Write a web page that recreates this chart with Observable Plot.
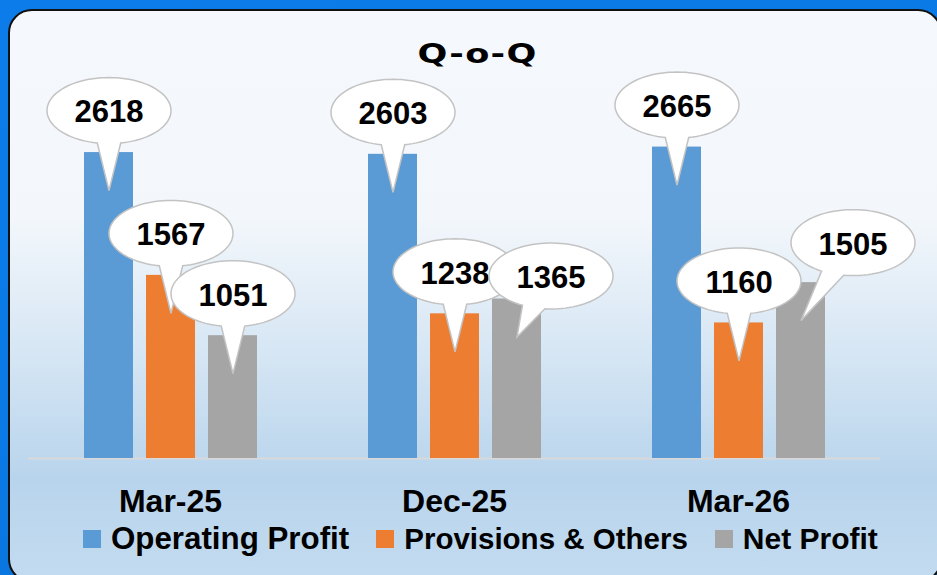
<!DOCTYPE html>
<html>
<head>
<meta charset="utf-8">
<script src="https://cdn.jsdelivr.net/npm/d3@7"></script>
<script src="https://cdn.jsdelivr.net/npm/@observablehq/plot@0.6"></script>
<style>
html, body { margin: 0; padding: 0; }
body { width: 937px; height: 575px; overflow: hidden;
  background: linear-gradient(160deg, #0b7ce9 0%, #0a79e4 55%, #0663c6 100%); }
#wrap { position: relative; width: 937px; height: 575px; overflow: hidden; }
#panel { position: absolute; left: 8px; top: 9px; width: 930px; height: 570px;
  border: 2px solid #111; border-radius: 24px;
  background: linear-gradient(to bottom, #f5f8fc 0%, #f3f7fb 36%, #d6e6f4 60%, #b8d4ec 82%, #c3dbf0 100%); }
#title { position: absolute; left: 9px; width: 937px; top: 39px; line-height: 30px;
  text-align: center; color: #000; }
#title span { display: inline-block; font: bold 26px "DejaVu Sans", sans-serif; letter-spacing: 1px;
  transform: scaleX(1.35); transform-origin: center; }
#chart { position: absolute; left: 0; top: 0; }
#legend { position: absolute; left: 83px; top: 521px; }
#legend .lg-swatches { font: bold 30px "Liberation Sans", Arial, sans-serif !important; color: #000; margin: 0 !important; min-height: 0 !important; }
#legend .lg-swatch > svg { margin-right: 10px !important; }
#legend .lg-swatch:nth-child(2) { font-size: 31.3px; margin-right: 27px !important; }
#legend .lg-swatch:nth-child(3) { font-size: 29.5px; margin-right: 27px !important; }
#legend .lg-swatch:nth-child(4) { font-size: 30px; margin-right: 0 !important; }
</style>
</head>
<body>
<div id="wrap">
  <div id="panel"></div>
  <div id="title"><span>Q-o-Q</span></div>
  <div id="chart"></div>
  <div id="legend"></div>
</div>
<script>
// ---- data ----
const periods = ["Mar-25", "Dec-25", "Mar-26"];
const series = ["Operating Profit", "Provisions & Others", "Net Profit"];
const operatingProfit = [2618, 2603, 2665];
const provisionsOthers = [1567, 1238, 1160];
const netProfit = [1051, 1365, 1505];
const seriesColors = ["#5b9bd5", "#ed7d31", "#a5a5a5"];

// ---- label layout (callout placement relative to bar top, in px) ----
const defaultOffset = [0, -42];
const calloutOffset = { "Dec-25|Net Profit": [34, -23], "Mar-26|Net Profit": [52, -40] };
const tipDrop = 38;

const valuesBySeries = [operatingProfit, provisionsOthers, netProfit];
const rows = periods.flatMap((p, i) =>
  series.map((s, j) => ({ period: p, series: s, value: valuesBySeries[j][i] })));

function bubble(tx, ty, rx = 62, ry = 33) {
  return {
    draw(ctx) {
      const t0 = Math.atan2(ty / ry, tx / rx);
      const d = 0.19, n = 90;
      const a0 = t0 + d, a1 = t0 - d + 2 * Math.PI;
      ctx.moveTo(rx * Math.cos(a0), ry * Math.sin(a0));
      for (let k = 1; k <= n; k++) {
        const a = a0 + (a1 - a0) * k / n;
        ctx.lineTo(rx * Math.cos(a), ry * Math.sin(a));
      }
      ctx.lineTo(tx, ty);
      ctx.closePath();
    }
  };
}

const callouts = rows.flatMap(d => {
  const [ox, oy] = calloutOffset[d.period + "|" + d.series] ?? defaultOffset;
  return [
    Plot.dot([d], { fx: "period", x: "series", y: "value", dx: ox, dy: oy,
      symbol: bubble(-ox, tipDrop - oy), r: 10, fill: "white", stroke: "#c3c3c3", strokeWidth: 1.5 }),
    Plot.text([d], { fx: "period", x: "series", y: "value", dx: ox, dy: oy + 2,
      text: v => String(v.value), fontSize: 31, fontWeight: "bold", fill: "#000" })
  ];
});

const chart = Plot.plot({
  width: 937, height: 575,
  marginTop: 49, marginBottom: 117, marginLeft: 27, marginRight: 56,
  style: { background: "transparent", fontFamily: "Liberation Sans, Arial, sans-serif",
    fontSize: "32px", fontWeight: "bold", color: "#000", overflow: "visible" },
  fx: { domain: periods, padding: 0, axis: "bottom", tickSize: 0, tickPadding: 31, label: null },
  x: { domain: series, paddingInner: 0.21, paddingOuter: 0.86, axis: null },
  y: { domain: [0, 3500], axis: null },
  color: { domain: series, range: seriesColors },
  marks: [
    Plot.ruleY([0], { stroke: "#d9d9d9", strokeWidth: 2 }),
    Plot.barY(rows, { fx: "period", x: "series", y: "value", fill: "series" }),
    ...callouts
  ]
});
document.getElementById("chart").append(chart);

const legend = Plot.legend({
  color: { domain: series, range: seriesColors },
  legend: "swatches", swatchSize: 18, className: "lg"
});
document.getElementById("legend").append(legend);
</script>
</body>
</html>
